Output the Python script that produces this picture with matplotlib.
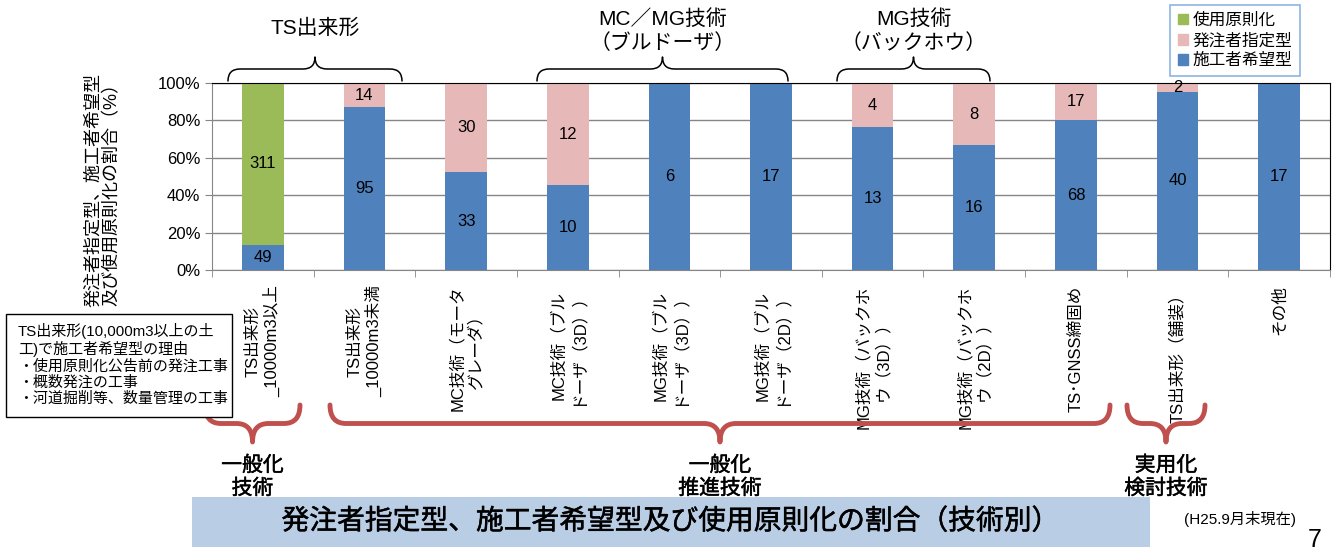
import matplotlib.pyplot as plt
import matplotlib.patheffects as pe
import numpy as np
from matplotlib.path import Path
from matplotlib.patches import PathPatch, Patch, Rectangle
from matplotlib.ticker import PercentFormatter, FixedLocator

plt.rcParams['font.family'] = ['Liberation Sans', 'Noto Sans CJK JP', 'DejaVu Sans']

categories = [
    "TS出来形\n_10000m3以上",
    "TS出来形\n_10000m3未満",
    "MC技術（モータ\nグレーダ）",
    "MC技術（ブル\nドーザ（3D））",
    "MG技術（ブル\nドーザ（3D））",
    "MG技術（ブル\nドーザ（2D））",
    "MG技術（バックホ\nウ（3D））",
    "MG技術（バックホ\nウ（2D））",
    "TS･GNSS締固め",
    "TS出来形（舗装）",
    "その他",
]
kibou = [49, 95, 33, 10, 6, 17, 13, 16, 68, 40, 17]    # 施工者希望型
shitei = [0, 14, 30, 12, 0, 0, 4, 8, 17, 2, 0]         # 発注者指定型
gensoku = [311, 0, 0, 0, 0, 0, 0, 0, 0, 0, 0]          # 使用原則化

series_names = ["施工者希望型", "発注者指定型", "使用原則化"]
series_colors = ["#4F81BD", "#E6B9B8", "#9BBB59"]

W, H = 1336, 553
fig = plt.figure(figsize=(W / 100, H / 100), dpi=100)
ax = fig.add_axes([212 / W, 1 - 270 / H, 1118 / W, 187 / H])

counts = np.array([kibou, shitei, gensoku], dtype=float)
totals = counts.sum(axis=0)
shares = counts / totals
x = np.arange(len(categories))

bottom = np.zeros(len(categories))
for name, color, cnt, sh in zip(series_names, series_colors, counts, shares):
    ax.bar(x, sh, width=0.41, bottom=bottom, color=color, label=name, zorder=2)
    for xi, c, b, h in zip(x, cnt, bottom, sh):
        if c > 0:
            ax.text(xi, b + h / 2, f"{int(c)}", ha='center', va='center',
                    fontsize=12, zorder=3)
    bottom += sh

ax.set_xlim(-0.5, len(categories) - 0.5)
ax.set_ylim(0, 1)
ax.set_yticks(np.linspace(0, 1, 6))
ax.yaxis.set_major_formatter(PercentFormatter(1.0, decimals=0))
ax.yaxis.grid(True, color='#868686', lw=1, zorder=0)
ax.set_axisbelow(True)
ax.tick_params(axis='y', labelsize=12, length=5, color='#868686')

ax.set_xticks(x)
ax.set_xticklabels(categories, rotation=90, ha='center', va='top',
                   multialignment='center', fontsize=12)
ax.xaxis.set_minor_locator(FixedLocator(np.arange(-0.5, len(categories), 1)))
ax.tick_params(axis='x', which='major', length=0, pad=11)
ax.tick_params(axis='x', which='minor', length=5, color='#868686')

for side in ['left', 'bottom']:
    ax.spines[side].set_color('#868686')
for side in ['top', 'right']:
    ax.spines[side].set_color('black')

ax.set_ylabel("発注者指定型、施工者希望型\n及び使用原則化の割合（%）", fontsize=13,
              linespacing=1.05)
ax.yaxis.set_label_coords(-0.082, 0.43)

handles = [Patch(color=series_colors[2]), Patch(color=series_colors[1]),
           Patch(color=series_colors[0])]
leg = fig.legend(handles, ["使用原則化", "発注者指定型", "施工者希望型"],
                 loc='upper right', bbox_to_anchor=(1300 / W, 1 - 5 / H),
                 borderaxespad=0, fontsize=12, handlelength=0.6,
                 handleheight=0.6, handletextpad=0.3, labelspacing=0.3,
                 borderpad=0.45, fancybox=False, framealpha=1)
leg.get_frame().set_edgecolor('#8EB4E3')
leg.get_frame().set_linewidth(1.2)

# overlay in pixel coordinates for braces and annotations
ov = fig.add_axes([0, 0, 1, 1])
ov.set_xlim(0, W)
ov.set_ylim(H, 0)
ov.axis('off')

semibold = [pe.withStroke(linewidth=0.35, foreground='black')]


def brace(x0, x1, y_end, y_tip, r, color, lw):
    xm = (x0 + x1) / 2
    ym = (y_end + y_tip) / 2
    verts = [(x0, y_end), (x0, ym), (x0 + r, ym),
             (xm - r, ym),
             (xm, ym), (xm, y_tip),
             (xm, ym), (xm + r, ym),
             (x1 - r, ym),
             (x1, ym), (x1, y_end)]
    codes = [Path.MOVETO, Path.CURVE3, Path.CURVE3,
             Path.LINETO,
             Path.CURVE3, Path.CURVE3,
             Path.CURVE3, Path.CURVE3,
             Path.LINETO,
             Path.CURVE3, Path.CURVE3]
    ov.add_patch(PathPatch(Path(verts, codes), fill=False, edgecolor=color,
                           lw=lw, capstyle='round', joinstyle='round'))


# top group braces
for x0, x1, label in [(228, 402, "TS出来形"),
                      (537, 788, "MC／MG技術\n（ブルドーザ）"),
                      (837, 990, "MG技術\n（バックホウ）")]:
    brace(x0, x1, 81, 57, 12, 'black', 1.1)
    ty = 28 if "\n" not in label else 31
    ov.text((x0 + x1) / 2, ty, label, ha='center', va='center', fontsize=15,
            linespacing=1.25, multialignment='center')

# bottom classification braces
red = '#C0504D'
for x0, x1, label in [(205, 300, "一般化\n技術"),
                      (330, 1110, "一般化\n推進技術"),
                      (1127, 1205, "実用化\n検討技術")]:
    brace(x0, x1, 405, 442, 16, red, 3.5)
    ov.text((x0 + x1) / 2, 477, label, ha='center', va='center', fontsize=15,
            linespacing=1.2, multialignment='center', path_effects=semibold)

# note box on the left
ov.add_patch(Rectangle((6, 314), 226, 103, facecolor='white',
                       edgecolor='black', lw=1, zorder=5))
ov.text(18, 323, "TS出来形(10,000m3以上の土\n工)で施工者希望型の理由\n"
        "・使用原則化公告前の発注工事\n・概数発注の工事\n・河道掘削等、数量管理の工事",
        ha='left', va='top', fontsize=10.8, linespacing=1.18, zorder=6)

# title band
ov.add_patch(Rectangle((192, 497), 958, 50, facecolor='#B9CDE5',
                       edgecolor='none', zorder=1))
ov.text(670, 522, "発注者指定型、施工者希望型及び使用原則化の割合（技術別）",
        ha='center', va='center', fontsize=20, zorder=2, path_effects=semibold)
ov.text(1240, 519, "(H25.9月末現在)", ha='center', va='center', fontsize=11)
ov.text(1315, 540, "7", ha='center', va='center', fontsize=18)

fig.savefig("out.png", dpi=100)
